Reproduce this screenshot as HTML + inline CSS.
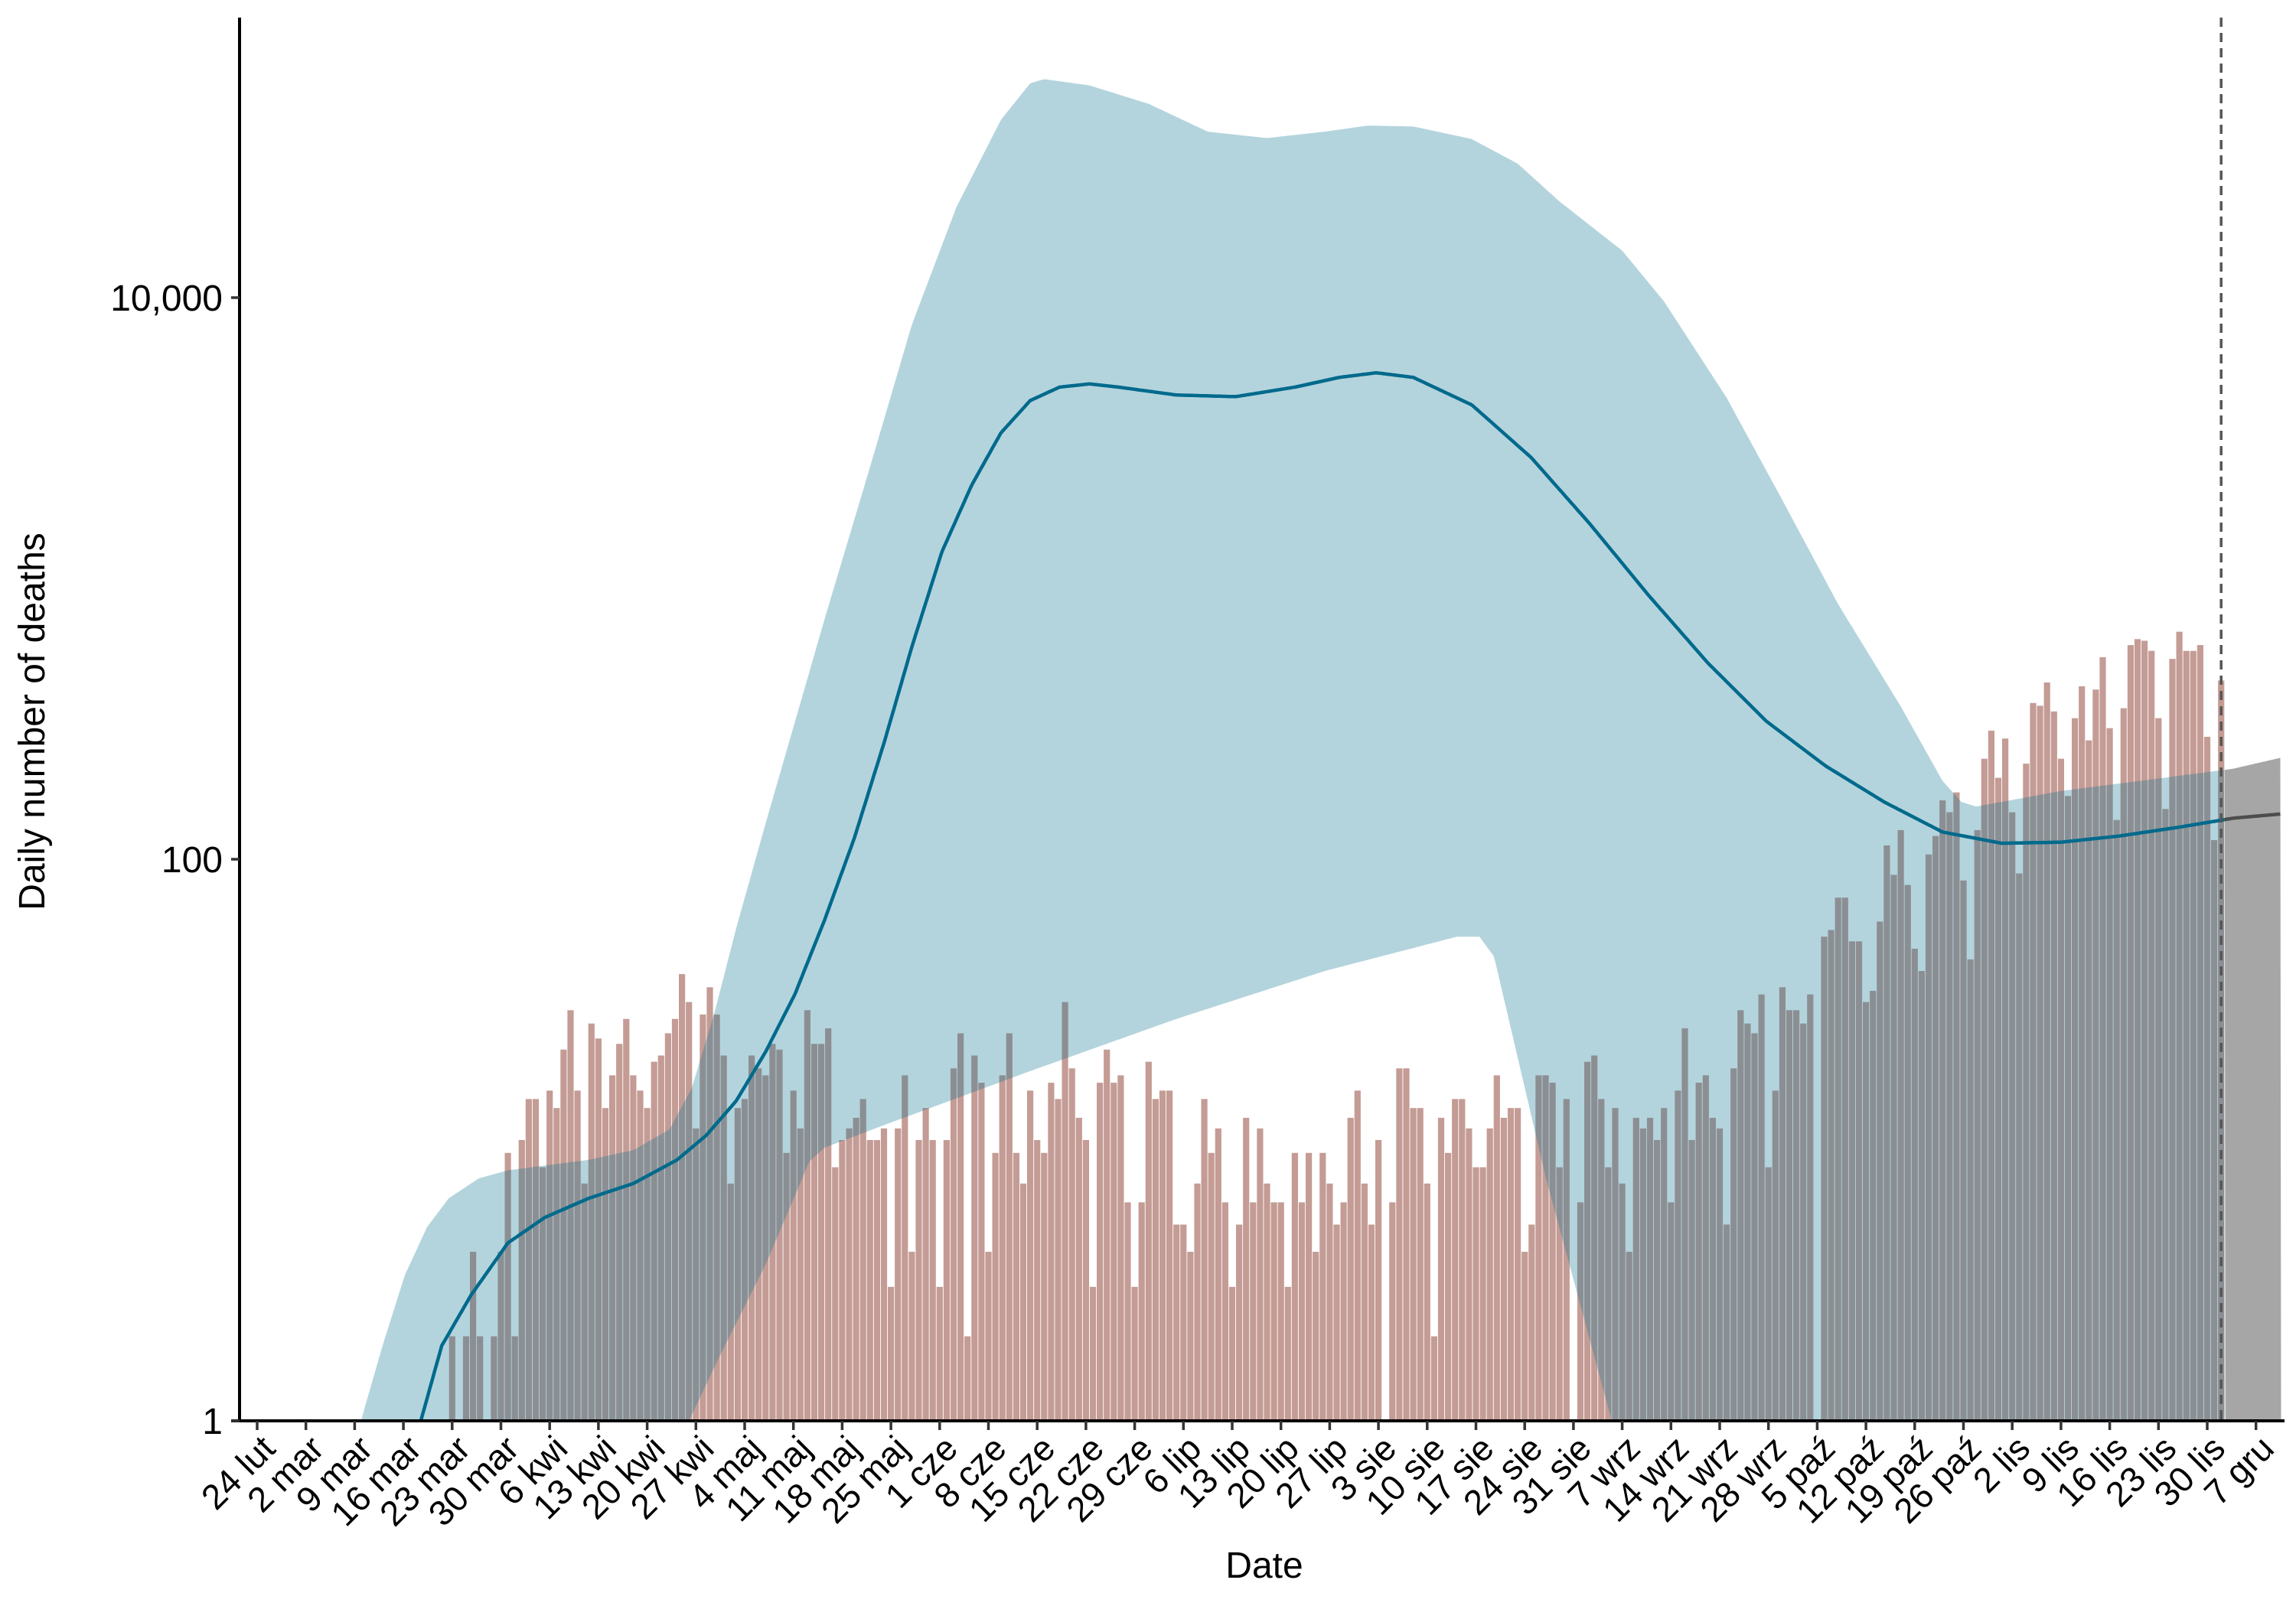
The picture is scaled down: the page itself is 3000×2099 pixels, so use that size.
<!DOCTYPE html>
<html><head><meta charset="utf-8"><style>
html,body{margin:0;padding:0;background:#fff;}
svg{display:block;font-family:"Liberation Sans",Arial,sans-serif;}
</style></head><body>
<svg id="chart" width="3000" height="2099" viewBox="0 0 3000 2099" xmlns="http://www.w3.org/2000/svg">
<defs><clipPath id="plotclip"><rect x="313" y="23" width="2672" height="1834"/></clipPath></defs>
<g id="plot" clip-path="url(#plotclip)"></g>
<g id="axes"></g>
<text x="58" y="943" font-size="48" text-anchor="middle" transform="rotate(-90 58 943)">Daily number of deaths</text>
<text x="1652" y="2062" font-size="48" text-anchor="middle">Date</text>
</svg>
<script>
// ---- data ----
const startDay = 28; // day index of first bar (0 = 24 lut)
const deaths = [2,0,2,4,2,0,2,4,9,2,10,14,14,8,15,13,21,29,15,7,26,23,13,17,22,27,17,15,13,19,20,24,27,39,
31,11,28,35,28,20,7,13,14,20,18,17,22,21,9,15,11,29,22,22,25,8,10,11,12,14,10,10,11,3,11,17,4,10,13,10,3,10,18,24,2,20,16,4,9,17,24,9,7,15,10,9,16,14,31,18,12,10,3,16,21,16,17,6,3,6,19,14,15,15,5,5,4,7,14,9,11,6,
3,5,12,6,11,7,6,6,3,9,6,9,4,9,7,5,6,12,15,7,5,10,0,6,18,18,13,13,7,2,12,9,14,14,11,8,8,11,17,12,13,13,4,5,17,17,16,8,14,0,6,19,20,14,8,13,7,4,12,11,12,10,13,6,15,25,10,16,17,12,11,5,18,29,26,24,33,
8,15,35,29,29,26,33,0,53,56,73,73,51,51,31,34,60,112,88,127,81,48,40,104,121,162,147,173,84,44,127,228,287,195,269,147,89,219,360,352,426,336,228,168,318,413,265,402,524,293,138,345,579,608,600,552,318,151,517,646,552,552,579,273,117,433];
const lineDays = [23.5,26.5,30.7,36,41.3,47.6,54,60.3,64.5,68.8,73,77.2,81.5,85.7,90,94,98.3,102.6,106.8,111,115.2,119.5,123.7,132,140.5,149,155.4,160.7,166,174.4,182.9,191.3,199.8,208.3,216.7,225.2,233.6,242,250.5,259,267.4,275.9,283.7,290.6];
const lineVals = [1,1.85,2.8,4.3,5.3,6.2,7,8.5,10.4,13.8,20.6,33,61,118,259,570,1240,2150,3300,4300,4800,4930,4800,4500,4440,4800,5200,5400,5200,4150,2700,1570,870,500,310,215,160,125,114,115,121,130,140,145];
const upDays = [14.9,18,21.2,24.4,27.5,31.8,36,47.6,54,59.2,62.4,65.6,68.8,73,81.5,87.8,94,100.4,106.8,111,113,119.5,128,136.5,145,153.3,159.5,166,174.4,181,187,196,202,211,219,227,236,242,244.7,246.8,259,271.7,283.7,290.6];
const upVals = [1,1.85,3.3,4.9,6.2,7.3,7.8,8.5,9.2,10.9,15.3,28,57,134,720,2400,8000,21000,43000,58000,60000,57000,49000,39000,37000,39000,41000,40700,36700,30000,22000,14700,9700,4400,1900,810,350,190,160,154,175,192,210,230];
const loDays = [14.9,62,66.6,73,79.3,81.5,90,111,132,153.3,172.3,175.5,177.6,185,194.5,290.6];
const loVals = [1,1,1.74,3.6,8.4,9.4,11.3,17.6,27,40,53,53,45,7.4,1,1];
const tickLabels = ["24 lut","2 mar","9 mar","16 mar","23 mar","30 mar","6 kwi","13 kwi","20 kwi","27 kwi","4 maj","11 maj","18 maj","25 maj","1 cze","8 cze","15 cze","22 cze","29 cze","6 lip","13 lip","20 lip","27 lip","3 sie","10 sie","17 sie","24 sie","31 sie","7 wrz","14 wrz","21 wrz","28 wrz","5 paź","12 paź","19 paź","26 paź","2 lis","9 lis","16 lis","23 lis","30 lis","7 gru"];
const yTicks = [1,100,10000];
const yTickLabels = ["1","100","10,000"];
const nowDay = 282;

// ---- scales ----
const X = d => 336 + 9.1*d;
const Y = v => 1857 - Math.log10(Math.max(v,1))*367;
const NS = "http://www.w3.org/2000/svg";
function mk(tag, attrs, parent){const e=document.createElementNS(NS,tag);for(const k in attrs)e.setAttribute(k,attrs[k]);parent.appendChild(e);return e;}
const plot=document.getElementById('plot'), axes=document.getElementById('axes');

// bars
const barG = mk('g',{},plot);


deaths.forEach((v,i)=>{
  if(v<=1) return;
  const d=startDay+i;
  const r=mk('rect',{x:X(d)-4.1,y:Y(v),width:8.2,height:1857-Y(v),fill:'#c49c95'},barG);
  
  
});

function interp(days, vals, d){
  if(d<=days[0]) return Math.log10(vals[0]);
  for(let i=1;i<days.length;i++){ if(d<=days[i]){const t=(d-days[i-1])/(days[i]-days[i-1]);return Math.log10(vals[i-1])*(1-t)+Math.log10(vals[i])*t;} }
  return Math.log10(vals[vals.length-1]);
}
function ribbonPath(d0,d1){
  let pts=[];
  for(let d=d0; d<=d1+1e-9; d+=0.25){pts.push([X(d),1857-interp(upDays,upVals,d)*367]);}
  for(let d=d1; d>=d0-1e-9; d-=0.25){pts.push([X(d),1857-interp(loDays,loVals,d)*367]);}
  return 'M'+pts.map(p=>p[0].toFixed(1)+','+p[1].toFixed(1)).join('L')+'Z';
}
const rib=mk('path',{d:ribbonPath(upDays[0],nowDay+0.5),fill:'rgb(7,113,143)','fill-opacity':0.3},plot);


const fc=mk('path',{d:ribbonPath(nowDay+0.5,upDays[upDays.length-1]),fill:'#a6a6a6'},plot);



function linePath(d0,d1){
  let s='';
  for(let d=d0; d<=d1+1e-9; d+=0.25){s+=(s?'L':'M')+X(d).toFixed(1)+','+(1857-interp(lineDays,lineVals,d)*367).toFixed(1);}
  return s;
}
const ln=mk('path',{d:linePath(lineDays[0],nowDay+0.5),fill:'none',stroke:'#006a8c','stroke-width':4.5,'stroke-linejoin':'round'},plot);


const ln2=mk('path',{d:linePath(nowDay+0.5,lineDays[lineDays.length-1]),fill:'none',stroke:'#4d4d4d','stroke-width':4.5},plot);



const dl=mk('line',{x1:X(nowDay),x2:X(nowDay),y1:23,y2:1857,stroke:'#555','stroke-width':3.5,'stroke-dasharray':'12,8'},plot);



// axes
const ya=mk('line',{x1:313,x2:313,y1:23,y2:1859,stroke:'#000','stroke-width':4},axes);


const xa=mk('line',{x1:302,x2:2985,y1:1857,y2:1857,stroke:'#000','stroke-width':4},axes);


yTicks.forEach((v,i)=>{
  const t=mk('line',{x1:302,x2:313,y1:Y(v),y2:Y(v),stroke:'#333','stroke-width':3.5},axes);
  
  
  const l=mk('text',{x:291,y:Y(v)+17,'font-size':48,'text-anchor':'end',fill:'#000'},axes);
  l.textContent=yTickLabels[i];
  
  
});
tickLabels.forEach((lab,i)=>{
  const x=X(i*7);
  const t=mk('line',{x1:x,x2:x,y1:1857,y2:1869,stroke:'#333','stroke-width':3.5},axes);
  
  
  const l=mk('text',{x:x+26,y:1896,'font-size':46,'text-anchor':'end',fill:'#000',transform:`rotate(-45 ${x+26} 1896)`},axes);
  l.textContent=lab;
  
  
});
</script>
</body></html>
